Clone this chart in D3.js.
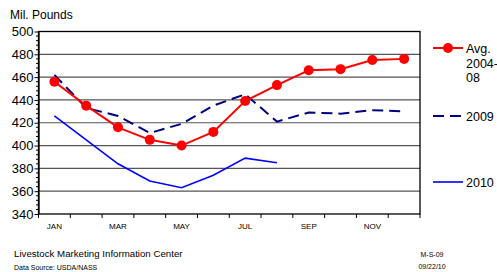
<!DOCTYPE html>
<html>
<head>
<meta charset="utf-8">
<script src="https://cdn.jsdelivr.net/npm/d3@7"></script>
<style>
  body { margin: 0; background: #fff; }
  text { font-family: "Liberation Sans", Arial, sans-serif; }
</style>
</head>
<body>
<div id="chart"></div>
<script>
const months = ["JAN","FEB","MAR","APR","MAY","JUN","JUL","AUG","SEP","OCT","NOV","DEC"];
const tickMonths = ["JAN","MAR","MAY","JUL","SEP","NOV"];
const avg0408 = [456, 435, 416, 405, 400, 412, 439, 453, 466, 467, 475, 476];
const y2009 = [462, 433, 426, 411, 419, 435, 445, 421, 429, 428, 431, 430];
const y2010 = [426, 405, 384, 369, 363, 374, 389, 385];
const yTicks = [340, 360, 380, 400, 420, 440, 460, 480, 500];

let width = 497, height = 272;
let margin = {top: 31.5, left: 38.5, right: 77, bottom: 58};
let pW = 420 - margin.left;
let pH = 214 - margin.top;

let svg = d3.select("#chart").append("svg")
  .attr("width", width).attr("height", height);

let x = d3.scaleBand().domain(months).range([0, pW]);
let y = d3.scaleLinear().domain([340, 500]).range([pH, 0]);

let g = svg.append("g").attr("transform", `translate(${margin.left},${margin.top})`);

// gridlines
g.selectAll(".grid").data(yTicks.slice(1, -1)).join("line")
  .attr("x1", 0).attr("x2", pW)
  .attr("y1", d => y(d)).attr("y2", d => y(d))
  .attr("stroke", "#555").attr("stroke-width", 1.2);

// frame
g.append("rect").attr("width", pW).attr("height", pH)
  .attr("fill", "none").attr("stroke", "#000").attr("stroke-width", 1.3);

// y axis with minor ticks
let minor = d3.range(340, 501, 4).filter(d => d % 20 !== 0);
g.selectAll(".minor").data(minor).join("line")
  .attr("x1", -2.5).attr("x2", 0)
  .attr("y1", d => y(d)).attr("y2", d => y(d))
  .attr("stroke", "#000");
let yAxis = g.append("g").call(d3.axisLeft(y).tickValues(yTicks).tickSize(4).tickSizeOuter(0));
yAxis.select(".domain").attr("stroke-width", 1.3);
yAxis.selectAll("text").attr("font-size", 13).attr("fill", "#000")
  .attr("font-family", "Liberation Sans, Arial, sans-serif").attr("x", -5);

// x axis: ticks at band edges
let edges = d3.range(0, 13).map(i => i * x.step());
g.selectAll(".xt").data(edges).join("line")
  .attr("x1", d => d).attr("x2", d => d)
  .attr("y1", pH).attr("y2", pH + 4)
  .attr("stroke", "#000");
g.selectAll(".xl").data(tickMonths).join("text")
  .attr("x", d => x(d) + x.bandwidth() / 2)
  .attr("y", pH + 15)
  .attr("text-anchor", "middle")
  .attr("font-size", 8)
  .text(d => d);

let line = d3.line()
  .x((d, i) => x(months[i]) + x.bandwidth() / 2)
  .y(d => y(d));

g.append("path").attr("d", line(y2010))
  .attr("fill", "none").attr("stroke", "#0000ff").attr("stroke-width", 1.6);
g.append("path").attr("d", line(y2009))
  .attr("fill", "none").attr("stroke", "#000080").attr("stroke-width", 2)
  .attr("stroke-dasharray", "11,6");
g.append("path").attr("d", line(avg0408))
  .attr("fill", "none").attr("stroke", "#ff0000").attr("stroke-width", 2);
g.selectAll(".dot").data(avg0408).join("circle")
  .attr("cx", (d, i) => x(months[i]) + x.bandwidth() / 2)
  .attr("cy", d => y(d))
  .attr("r", 5).attr("fill", "#ff0000");

// legend
let lg = svg.append("g");
lg.append("line").attr("x1", 433).attr("x2", 463).attr("y1", 48).attr("y2", 48)
  .attr("stroke", "#ff0000").attr("stroke-width", 2);
lg.append("circle").attr("cx", 448).attr("cy", 48).attr("r", 5).attr("fill", "#ff0000");
lg.append("text").attr("x", 466).attr("y", 53).attr("font-size", 12.5).text("Avg.");
lg.append("text").attr("x", 466).attr("y", 68).attr("font-size", 12.5).text("2004-");
lg.append("text").attr("x", 466).attr("y", 82).attr("font-size", 12.5).text("08");
lg.append("line").attr("x1", 433).attr("x2", 463).attr("y1", 116).attr("y2", 116)
  .attr("stroke", "#000080").attr("stroke-width", 2).attr("stroke-dasharray", "11,6");
lg.append("text").attr("x", 466).attr("y", 121).attr("font-size", 12.5).text("2009");
lg.append("line").attr("x1", 433).attr("x2", 463).attr("y1", 182).attr("y2", 182)
  .attr("stroke", "#0000ff").attr("stroke-width", 1.6);
lg.append("text").attr("x", 466).attr("y", 187).attr("font-size", 12.5).text("2010");

// titles and footer
svg.append("text").attr("x", 10).attr("y", 19).attr("font-size", 12).text("Mil. Pounds");
svg.append("text").attr("x", 14).attr("y", 257).attr("font-size", 9.7).text("Livestock Marketing Information Center");
svg.append("text").attr("x", 14).attr("y", 270).attr("font-size", 7).text("Data Source:  USDA/NASS");
svg.append("text").attr("x", 432).attr("y", 257).attr("font-size", 7).attr("text-anchor", "middle").text("M-S-09");
svg.append("text").attr("x", 432).attr("y", 269).attr("font-size", 7).attr("text-anchor", "middle").text("09/22/10");
</script>
</body>
</html>
